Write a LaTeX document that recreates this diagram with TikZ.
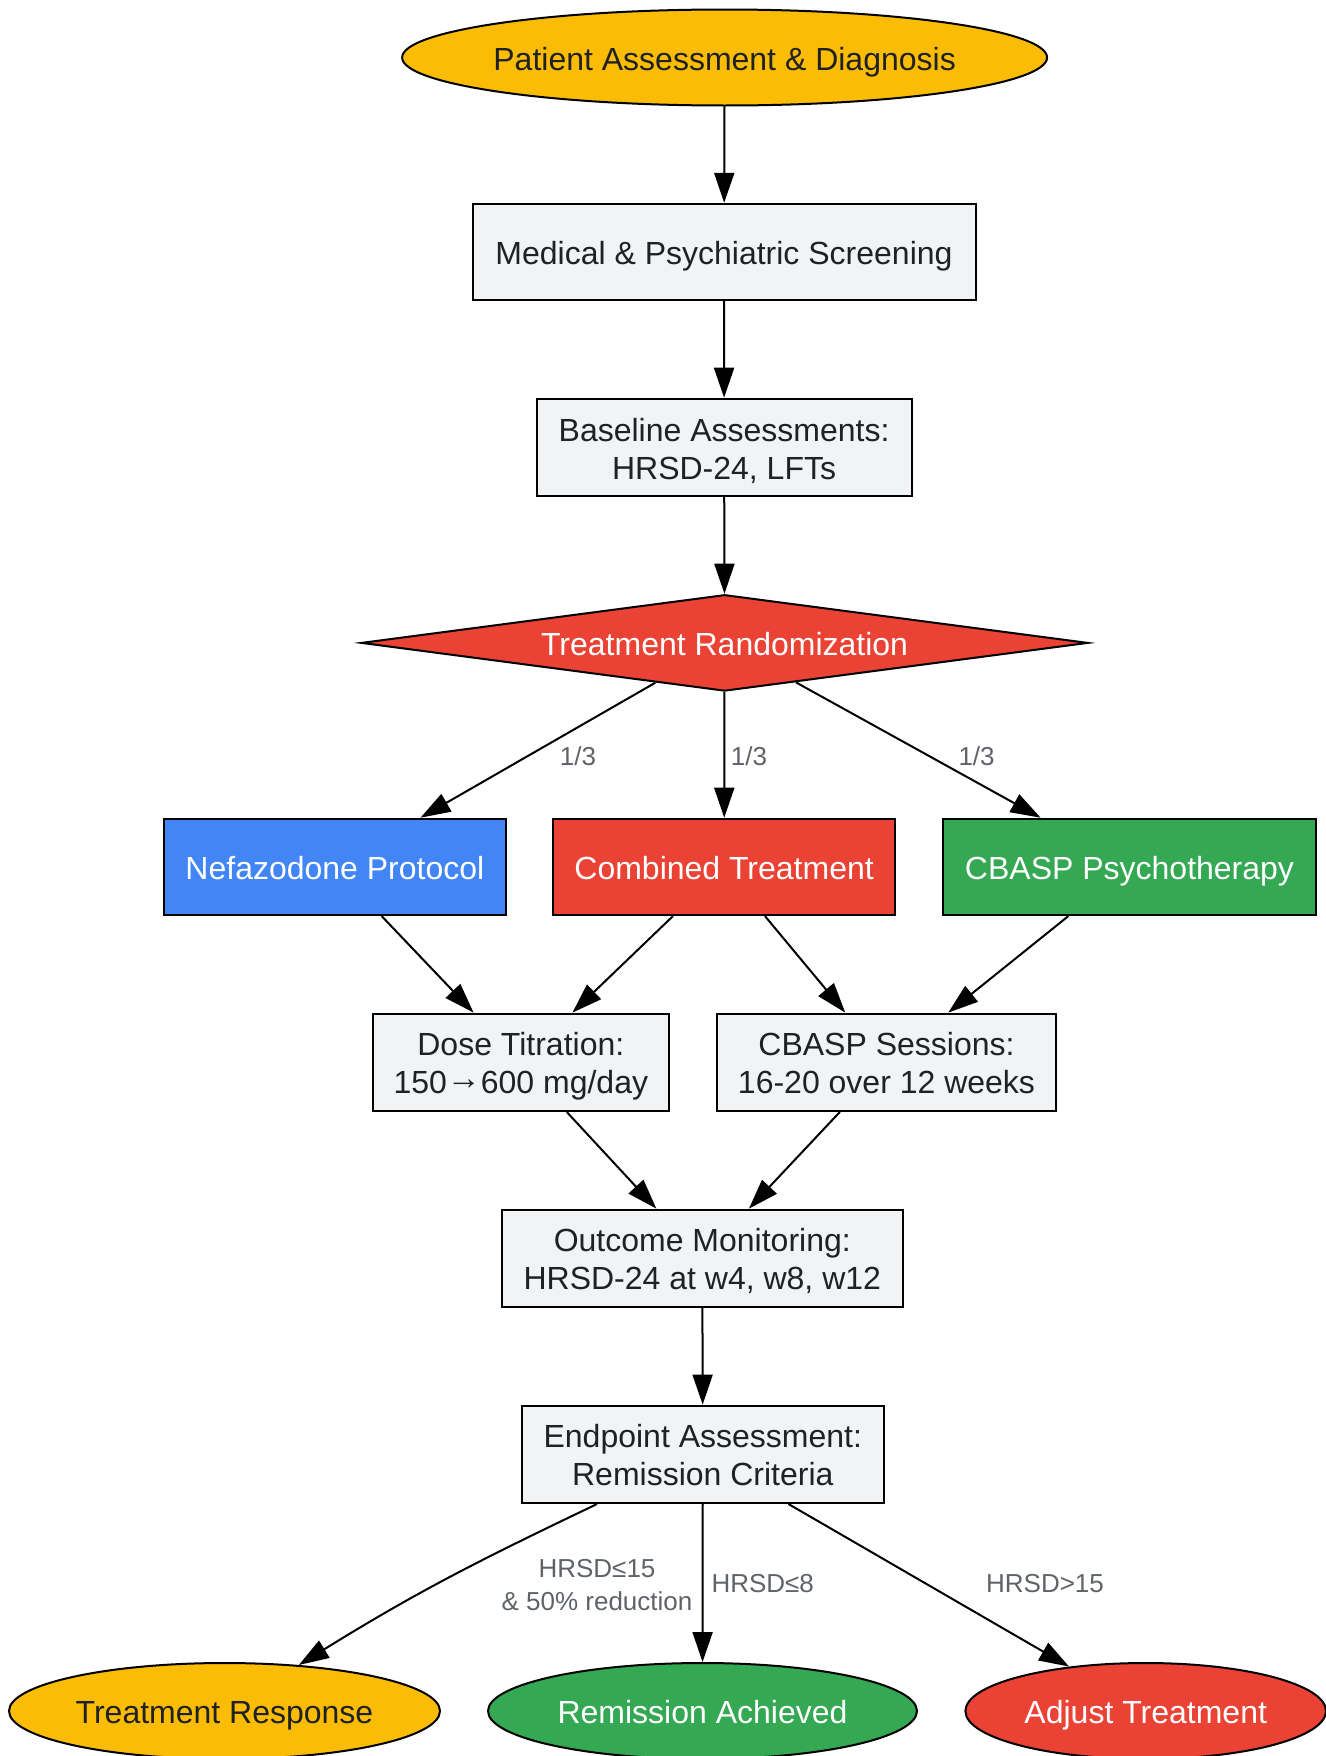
\documentclass[tikz,border=0pt]{standalone}
\usepackage{fontspec}
\setmainfont{Liberation Sans}
\usetikzlibrary{shapes.geometric,arrows.meta}
\definecolor{gyellow}{HTML}{FBBC05}
\definecolor{gred}{HTML}{EA4335}
\definecolor{ggreen}{HTML}{34A853}
\definecolor{gblue}{HTML}{4285F4}
\definecolor{gbox}{HTML}{F1F3F4}
\definecolor{gtext}{HTML}{202124}
\definecolor{glabel}{HTML}{5F6368}
\begin{document}
\begin{tikzpicture}[x=0.5pt,y=-0.5pt,
  base/.style={draw=black, line width=1pt, inner sep=0pt, align=center,
    font=\fontsize{16}{19}\selectfont, text height=13.6pt, text depth=1pt},
  twoline/.style={text height=32.6pt, text depth=1pt},
  procbox/.style={base, rectangle, fill=gbox, text=gtext},
  termel/.style={base, ellipse, minimum height=48pt},
  decide/.style={base, diamond, aspect=7.6, fill=gred, text=white,
    minimum width=363.5pt, minimum height=48.2pt},
  flow/.style={line width=1pt, -{Triangle[length=15pt,width=10pt]}},
  elabel/.style={text=glabel, align=center, font=\fontsize{13}{16.25}\selectfont}
]
\useasboundingbox (0,0) rectangle (1326,1756);

\node[termel, fill=gyellow, text=gtext, minimum width=318pt, inner xsep=-1.6pt] (start) at (724.6,57.5) {Patient Assessment \& Diagnosis};
\node[procbox, minimum width=251.5pt, minimum height=48.2pt] (screen) at (724,252) {Medical \& Psychiatric Screening};
\node[procbox, twoline, minimum width=187.6pt, minimum height=48.7pt] (baseline) at (724.1,447.4) {Baseline Assessments:\\HRSD-24, LFTs};
\node[decide] (rand) at (724.6,642.9) {Treatment Randomization};

\node[base, rectangle, fill=gblue, text=white, minimum width=171.4pt, minimum height=48.2pt] (nef) at (334.9,866.9) {Nefazodone Protocol};
\node[base, rectangle, fill=gred, text=white, minimum width=170.8pt, minimum height=48.2pt] (comb) at (724.1,866.9) {Combined Treatment};
\node[base, rectangle, fill=ggreen, text=white, minimum width=186.5pt, minimum height=48.2pt] (cbasp) at (1129.5,866.9) {CBASP Psychotherapy};

\node[procbox, twoline, minimum width=147.8pt, minimum height=48.7pt] (dose) at (520.8,1062.3) {Dose Titration:\\150\raisebox{2pt}{\fontsize{17}{17}\selectfont →}600 mg/day};
\node[procbox, twoline, minimum width=169.7pt, minimum height=48.7pt] (sess) at (886.5,1062.3) {CBASP Sessions:\\16-20 over 12 weeks};

\node[procbox, twoline, minimum width=200.5pt, minimum height=48.7pt] (outcome) at (702.3,1258.3) {Outcome Monitoring:\\HRSD-24 at w4, w8, w12};
\node[procbox, twoline, minimum width=180.9pt, minimum height=48.7pt] (endp) at (702.8,1454.3) {Endpoint Assessment:\\Remission Criteria};

\node[termel, fill=gyellow, text=gtext, minimum width=215.5pt] (resp) at (224.5,1711) {Treatment Response};
\node[termel, fill=ggreen, text=white, minimum width=214.5pt] (remis) at (702.5,1711) {Remission Achieved};
\node[termel, fill=gred, text=white, minimum width=180.3pt] (adjust) at (1145.7,1711) {Adjust Treatment};

\draw[flow] (start) -- (screen);
\draw[flow] (screen) -- (baseline);
\draw[flow] (baseline) -- (rand);
\draw[flow] (rand) -- (nef);
\draw[flow] (rand) -- (comb);
\draw[flow] (rand) -- (cbasp);
\draw[flow] (nef) -- (dose);
\draw[flow] (comb) -- (dose);
\draw[flow] (comb) -- (sess);
\draw[flow] (cbasp) -- (sess);
\draw[flow] (dose) -- (outcome);
\draw[flow] (sess) -- (outcome);
\draw[flow] (outcome) -- (endp);
\draw[flow] (endp.south -| 597,0) .. controls (480,1560) and (420,1590) .. (resp);
\draw[flow] (endp) -- (remis);
\draw[flow] (endp) -- (adjust);

\node[elabel] (l1) at (578,756) {1/3};
\node[elabel] (l2) at (749,756) {1/3};
\node[elabel] (l3) at (976.6,756) {1/3};
\node[elabel] (l4) at (597,1585) {HRSD≤15\\\& 50\% reduction};
\node[elabel] (l5) at (762.7,1584) {HRSD≤8};
\node[elabel] (l6) at (1045,1584) {HRSD>15};
\end{tikzpicture}
\end{document}
